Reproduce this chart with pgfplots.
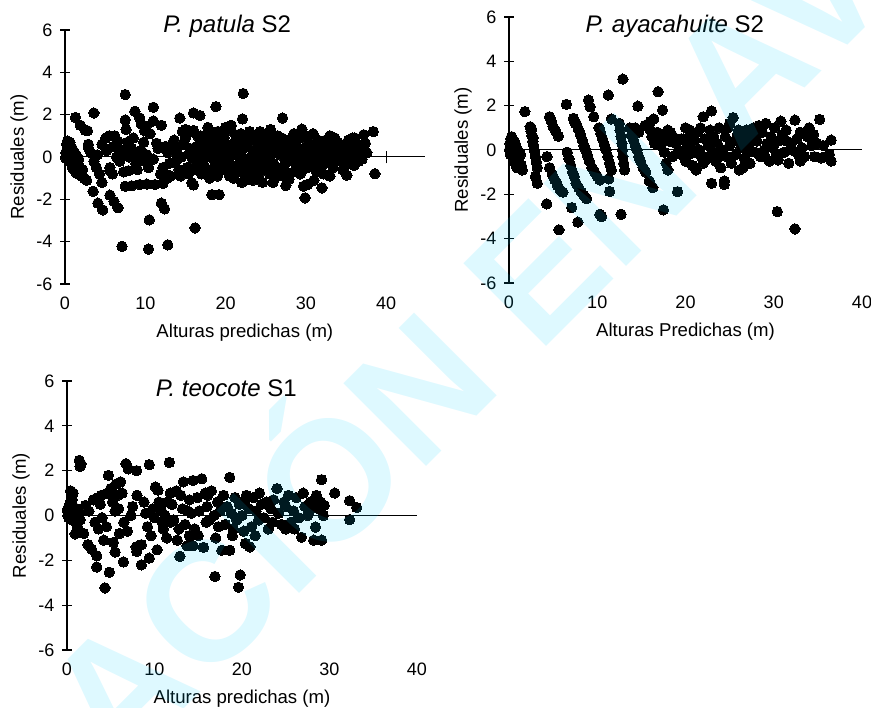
\documentclass[border=0pt]{standalone}
\usepackage{fontspec}
\setmainfont{Liberation Sans}
\usepackage{pgfplots}
\pgfplotsset{compat=1.18}
\definecolor{wmark}{RGB}{0,205,255}
\pgfplotsset{
 resid/.style={
  scale only axis, clip=false,
  ymin=-6, ymax=6, xmin=0,
  axis x line=bottom, axis y line=left,
  x axis line style={draw=none},
  y axis line style={-, line width=1.3pt},
  ytick={-6,-4,...,6}, xtick={0,10,20,30,40},
  xtick style={draw=none},
  ytick style={line width=1.3pt, black},
  tick align=center, major tick length=10pt,
  tick label style={font=\fontsize{18}{18}\selectfont},
  /pgf/number format/assume math mode=true,
  xticklabel style={anchor=center, yshift=-14pt},
  yticklabel style={anchor=east, xshift=-4pt},
  label style={font=\fontsize{18.6}{18.6}\selectfont},
  ylabel={Residuales (m)},
  ylabel style={at={([xshift=-46pt]axis description cs:0,0.5)}, anchor=center},
  xlabel style={at={([yshift=-49pt]axis description cs:0.5,0)}, anchor=center},
 },
 pts/.style={only marks, mark=*, mark size=5.2pt, mark options={fill=black, draw=black, line width=0pt}},
 zero/.style={no marks, black, line width=1pt},
}
\tikzset{ttl/.style={anchor=base, font=\fontsize{24}{24}\selectfont}}
\begin{document}
\begin{tikzpicture}
\useasboundingbox (0,0) rectangle (871pt,-708pt);
% ---------- Panel 1 ----------
\begin{axis}[resid, at={(65pt,-284pt)}, anchor=south west, width=359.7pt, height=254pt, xmax=44.8,
  xlabel={Alturas predichas (m)}]
\addplot[zero] coordinates {(0,0) (44.8,0)};
\draw[line width=1pt] (axis cs:40,-0.3) -- (axis cs:40,0.3);
\addplot[pts] coordinates {
(7.5,2.95) (22.2,3.0) (3.6,2.08) (1.3,1.87) (1.9,1.5) (2.5,1.27) (2.8,1.24) (7.5,1.75) (7.6,1.3) (8.7,2.16)
(9.5,1.56) (9.9,1.24) (11.0,2.35) (11.0,1.7) (12.0,1.5) (14.3,1.84) (16.0,2.08) (16.8,1.96) (18.8,2.38) (20.7,1.5)
(20.7,1.26) (22.1,1.8) (27.1,1.84) (29.5,1.32) (38.4,1.2) (37.2,1.05) (37.4,0.65) (37.6,0.2) (38.6,-0.79) (35.1,-0.86)
(32.0,-1.46) (29.7,-1.38) (29.9,-1.93) (30.2,-1.3)
(3.5,-1.62) (4.1,-2.18) (4.7,-2.5) (5.6,-1.8) (6.1,-2.1) (6.6,-2.4) (12.0,-2.18) (12.4,-2.45) (10.5,-2.97) (16.2,-3.35)
(7.1,-4.22) (10.4,-4.35) (12.8,-4.15)
(7.5,-1.38) (8.3,-1.36) (9.3,-1.3) (10.2,-1.28) (11.2,-1.3) (12.2,-1.25)
(15.8,-1.22) (16.0,-1.32) (18.3,-1.78) (19.2,-1.78) (22.0,-1.2) (23.4,-1.1) (24.6,-1.2) (25.9,-1.2) (27.5,-1.35) (27.9,-1.05)
(0.1,0.2) (0.2,0.6) (0.3,0.75) (0.3,0.1) (0.4,-0.1) (0.5,0.5) (0.6,0.3) (0.7,0.0) (0.8,-0.3) (0.9,-0.5)
(1.0,0.1) (1.1,-0.6) (1.2,-0.2) (1.3,-0.7) (1.5,-0.4) (1.6,-0.8) (1.8,-0.5) (2.0,-0.9) (2.2,-0.6) (2.4,-1.0)
(2.7,-1.1) (0.2,0.0) (0.5,-0.2) (0.6,0.7) (0.9,0.4) (1.2,0.2) (0.1,-0.05) (0.4,0.35) (1.4,0.1) (1.7,-0.1)
(2.9,0.6) (2.9,0.45) (3.2,0.2) (3.6,-0.2) (3.9,-0.5) (4.3,-0.8) (4.6,-1.2) (4.6,0.6) (5.1,0.9) (5.5,1.0)
(6.2,1.0) (6.6,0.75) (6.4,0.0) (6.9,0.2) (5.6,-0.5) (5.6,-0.65) (5.9,-0.8) (7.3,0.35) (7.3,0.1) (7.3,-0.7)
(7.9,-0.65) (8.5,0.9) (8.3,0.4) (8.9,0.05) (9.3,1.85) (10.1,1.45) (9.8,0.7) (10.2,0.1) (10.0,-0.2) (10.4,-0.5)
(10.6,1.1) (11.4,0.65) (11.6,0.4) (11.9,0.45) (12.2,-0.5) (12.5,-0.8) (12.7,-1.0) (11.9,-0.8) (8.0,0.0) (8.8,-0.3)
(9.0,-0.6) (6.0,0.5) (5.2,0.3) (4.0,0.1) (6.8,-0.2) (7.8,0.7) (9.5,0.3) (11.0,-0.1) (12.8,0.2) (13.0,0.5)
(13.5,0.4) (13.9,0.3) (14.5,0.0) (14.8,0.6) (15.0,0.9) (15.2,1.1) (15.0,1.3) (15.2,-0.5) (15.4,-0.8) (13.8,-0.2)
(14.2,-0.6) (14.0,0.1) (16.0,1.25) (16.5,1.0) (16.7,0.6) (17.1,0.2) (16.9,-0.2) (17.3,-0.4) (17.6,0.8) (17.9,0.5)
(18.1,1.1) (18.3,0.3) (18.5,-0.1) (18.8,-0.4) (19.0,1.2) (19.3,0.7) (19.5,0.2) (19.6,-0.6) (19.8,0.9) (20.1,0.4)
(20.3,-0.2) (20.5,-0.9) (20.8,0.6) (21.0,0.1) (21.3,1.0) (21.5,-0.4) (21.7,0.7) (22.0,0.3) (22.2,-0.7) (22.4,1.0)
(22.7,0.5) (22.9,-0.1) (23.2,0.8) (23.4,-0.4) (23.7,0.2) (24.0,0.9) (24.2,-0.8) (24.5,0.5) (24.8,0.0) (25.0,-0.5)
(25.3,0.7) (25.6,1.3) (25.8,0.3) (26.0,-0.3) (26.3,0.6) (26.5,-0.9) (26.8,0.1) (27.0,0.9) (27.3,-0.4) (27.6,0.4)
(28.1,0.0) (28.4,0.5) (28.7,-0.6) (29.0,0.3) (29.3,-0.2) (29.6,0.9) (29.9,0.0) (30.2,-0.5) (30.4,0.6) (30.7,-0.1)
(31.0,0.3) (31.3,-0.7) (31.5,0.8) (31.8,0.0) (32.0,-0.4) (32.3,0.4) (32.6,-0.2) (32.9,0.1) (33.1,0.7) (33.4,-0.5)
(33.7,0.2) (34.0,-0.1) (34.2,0.6) (34.5,0.0) (34.8,-0.4) (35.0,0.3) (35.3,0.8) (35.6,-0.2) (35.9,0.4) (36.2,0.0)
(36.5,0.6) (36.8,0.2) (37.0,-0.1)
(16.2,-0.6) (17.5,-0.8) (18.0,-1.0) (19.2,-0.3) (20.0,1.4) (21.0,-1.0) (22.5,-1.1) (23.8,-0.6) (24.3,1.2) (25.5,-0.8)
(26.5,1.0) (27.5,0.6) (28.0,-0.8) (29.0,1.0) (30.0,1.0) (31.0,-1.1) (32.5,0.8) (33.0,-0.9) (34.0,0.7) (35.5,0.7)
(36.0,-0.4) (23.0,1.2) (18.5,0.8) (19.0,-0.9) (16.5,0.1) (17.8,1.4) (20.5,0.0) (24.0,0.3) (26.0,0.3) (28.5,1.1)
(30.5,0.2) (33.5,0.4)
(13.2,-0.9) (13.6,0.8) (14.6,1.2) (15.6,0.4) (15.9,-0.1) (16.4,0.5) (16.9,1.0) (17.3,0.9) (17.7,0.0) (18.1,-0.6)
(18.7,0.0) (19.1,0.5) (19.7,1.0) (20.2,-0.5) (20.6,0.3) (21.2,0.6) (21.8,-0.2) (22.3,0.7) (22.8,-0.4) (23.3,0.1)
(23.9,0.6) (24.4,-0.3) (24.9,0.8) (25.4,-0.1) (25.9,0.9) (26.4,-0.5) (26.9,0.5) (27.4,0.0) (27.8,0.8) (28.3,-0.2)
(28.8,0.6) (29.3,-0.8) (29.8,0.4) (30.3,0.9) (30.8,-0.3) (31.3,0.5) (31.7,0.1) (32.2,-0.8) (32.7,0.7) (33.2,-0.1)
(33.6,0.9) (34.1,0.3) (34.6,-0.6) (35.1,0.6) (35.6,0.1) (36.1,0.9) (36.6,-0.2) (37.1,0.5) (13.0,-0.3) (14.4,-0.9)
(17.0,-0.8) (21.4,-0.7) (23.0,-0.8) (25.2,0.4) (27.2,-0.9) (29.6,-0.6) (31.9,-0.3) (34.3,-0.2) (36.0,0.3) (12.5,0.5)
(15.5,0.2) (18.0,0.2) (20.0,0.0) (22.0,-0.1) (24.0,-0.1) (26.2,0.2) (28.0,0.3) (30.0,-0.1) (32.0,0.5) (34.0,0.4)
(19.4,1.2) (24.7,1.1) (21.9,1.1) (30.9,1.1) (33.0,1.0) (35.8,0.9)
};
\node[ttl] at (axis cs:20.2,5.9) {\textit{P. patula} S2};
\end{axis}
% ---------- Panel 2 ----------
\begin{axis}[resid, at={(509pt,-283pt)}, anchor=south west, width=353pt, height=266pt, xmax=40,
  xlabel={Alturas Predichas (m)}]
\addplot[zero] coordinates {(0,0) (40,0)};
\addplot[pts] coordinates {
(0.05,0.0) (0.1,0.3) (0.15,-0.2) (0.2,0.5) (0.3,0.6) (0.3,0.1) (0.4,-0.3) (0.45,0.35) (0.5,0.0) (0.55,-0.5)
(0.6,0.4) (0.65,0.2) (0.7,-0.2) (0.8,-0.6) (0.85,0.1) (0.9,-0.8) (1.0,-0.3) (1.1,-0.5) (1.2,-0.8) (1.3,-0.2)
(1.4,-0.7) (1.5,-0.9) (0.25,-0.05) (0.75,0.25) (1.0,0.0)
(1.8,1.73)
(2.4,1.05) (2.5,0.85) (2.6,0.65) (2.7,0.4) (2.8,0.2) (2.9,-0.05) (3.0,-0.3) (3.1,-0.55) (3.2,-0.8) (3.0,-1.2)
(3.2,-1.5) (2.55,0.95) (2.75,0.55)
(4.6,1.5) (4.8,1.3) (5.0,1.05) (5.3,0.85) (5.6,0.62) (4.3,-0.3) (4.6,-0.8) (4.9,-1.1) (5.2,-1.35) (5.5,-1.6)
(5.8,-1.8) (6.1,-1.9) (4.27,-2.43) (5.66,-3.6)
(6.5,2.06) (7.3,1.43) (7.5,1.2) (6.6,-0.1) (6.8,-0.4) (7.0,-0.7) (7.2,-1.0) (7.4,-1.2) (7.6,-1.5) (7.9,-1.7)
(8.2,-1.9) (8.5,-2.05) (8.8,-2.2) (7.1,-2.6) (7.8,-3.25)
(7.6,1.2) (7.85,0.95) (8.1,0.7) (8.3,0.45) (8.5,0.2) (8.7,0.0) (8.9,-0.25) (9.1,-0.5) (9.4,-0.8) (9.7,-1.0)
(10.0,-1.2) (10.3,-1.35)
(9.0,2.25) (9.2,1.95) (9.6,1.5) (10.2,1.0) (10.4,0.75) (10.6,0.5) (10.8,0.25) (11.0,0.0) (11.2,-0.3) (11.4,-0.6)
(11.6,-0.9) (11.3,-1.3) (10.3,-2.9) (10.5,-3.0) (11.25,2.48) (11.6,1.4) (12.9,3.2)
(12.5,1.2) (12.6,0.9) (12.7,0.6) (12.8,0.3) (12.85,0.0) (12.9,-0.3) (13.0,-0.6) (13.1,-0.9) (12.7,-2.9) (11.4,-1.87)
(13.7,1.0) (13.9,0.7) (14.1,0.45) (14.3,0.2) (14.5,0.0) (14.7,-0.3) (14.9,-0.5) (15.2,-0.8) (15.5,-1.0) (14.3,1.0)
(14.7,0.8) (15.9,-1.4) (16.3,-1.7)
(14.6,1.98) (15.4,1.1) (16.0,1.28) (16.4,1.4) (16.9,2.63) (17.4,1.8) (17.5,-2.7) (16.0,0.9) (16.2,0.6) (16.5,0.3)
(16.8,0.8) (17.0,0.5) (17.2,0.2) (17.5,0.7) (17.8,0.6) (18.0,0.9) (18.2,0.4) (17.6,-0.1) (17.8,-0.6) (18.0,-0.9)
(18.3,0.8) (18.6,0.6) (18.9,0.3) (19.2,0.0) (19.5,-0.2) (19.1,-1.88) (18.5,-0.3)
(19.8,0.5) (20.0,1.0) (20.2,0.2) (20.4,-0.2) (20.6,0.7) (20.8,-0.7) (21.0,0.4) (21.2,-0.9) (21.0,-0.1) (21.4,0.8)
(21.6,0.0) (21.8,-0.3) (22.0,1.5) (22.2,0.5) (22.4,-0.4) (22.6,0.2) (22.95,1.76) (22.8,0.9) (23.0,-0.1) (23.2,0.6)
(23.4,-0.5) (22.95,-1.5) (23.6,0.3) (23.8,1.0) (24.0,-0.8) (24.2,0.0) (24.4,-1.4) (24.4,-1.55) (24.5,0.6) (24.7,-0.3)
(25.0,1.2) (25.0,0.2) (25.2,-0.6) (25.4,1.46) (25.5,0.4) (25.7,-0.2) (25.9,0.7) (26.1,-0.9) (26.3,0.1) (26.5,0.5)
(26.7,-0.4) (26.9,0.9) (27.1,0.2) (27.3,-0.6) (27.5,0.6) (27.7,1.0) (27.9,-0.1) (28.1,0.4) (28.3,1.1) (28.5,-0.3)
(28.7,0.8) (28.9,0.0) (29.1,1.2) (29.3,0.3) (29.5,-0.5) (29.7,0.6) (29.9,0.1) (30.1,1.0) (30.3,-0.2) (30.5,0.4)
(30.5,-0.45) (30.8,1.3) (30.4,-2.78) (31.0,0.7) (31.2,-0.1) (31.4,0.9) (31.7,-0.6) (31.9,0.3) (32.1,0.0) (32.4,1.35)
(32.4,-3.56) (32.6,0.5) (32.8,-0.2) (33.0,0.8) (33.2,0.1) (33.5,-0.3) (33.8,0.6) (34.0,1.0) (34.3,0.2) (34.6,-0.3)
(34.9,0.3) (35.2,1.38) (35.4,-0.36) (35.6,0.2) (35.9,-0.3) (36.5,0.45) (36.5,-0.5) (36.3,-0.2) (20.5,0.9) (21.7,1.0)
(23.9,-0.3) (26.0,0.9) (27.0,-0.1) (28.0,0.8) (29.0,-0.3) (31.5,0.4) (33.0,-0.5) (34.5,0.7) (19.5,0.5) (24.8,1.0)
(26.5,-0.8) (22.0,-0.6) (20.0,-0.5)
};
\node[ttl] at (axis cs:18.8,5.32) {\textit{P. ayacahuite} S2};
\end{axis}
% ---------- Panel 3 ----------
\begin{axis}[resid, at={(67pt,-650pt)}, anchor=south west, width=350pt, height=269pt, xmax=40,
  xlabel={Alturas predichas (m)}]
\addplot[zero] coordinates {(0,0) (40,0)};
\addplot[pts] coordinates {
(0.05,0.2) (0.1,0.0) (0.15,0.35) (0.2,0.1) (0.2,-0.1) (0.3,0.5) (0.3,0.2) (0.4,1.1) (0.5,0.9) (0.5,0.0)
(0.6,0.7) (0.6,-0.2) (0.7,0.4) (0.8,0.2) (0.9,0.0) (0.93,-0.82) (1.0,-0.3) (1.1,0.3) (1.2,-0.5) (1.3,0.1)
(0.1,0.3) (0.25,-0.05) (1.4,2.46) (1.5,2.19) (1.6,2.3)
(1.9,-0.8) (2.1,0.45) (2.4,-1.3) (2.8,-1.5) (3.0,0.7) (3.2,-0.3) (3.4,-1.8) (3.4,-2.3) (3.6,0.8) (3.8,0.5)
(3.6,-0.6) (4.0,-0.1) (4.34,-3.23) (4.2,-1.1) (4.5,-0.5) (4.73,1.79) (4.84,-2.53) (4.6,1.0) (5.0,1.2) (5.2,0.6)
(5.3,-1.2) (5.5,-1.63) (5.6,1.4) (5.8,0.9) (5.9,0.3) (6.13,1.5) (6.3,1.0) (6.44,-2.07) (6.5,-0.3) (6.74,2.31)
(7.0,2.08) (6.9,-0.7) (7.3,0.0) (7.96,2.0) (7.9,-1.4) (7.96,-1.6) (8.5,-2.2) (8.5,-1.3) (8.8,0.6) (9.0,0.1)
(9.2,-0.5) (9.4,2.27) (9.4,-1.9) (9.6,-0.9) (10.1,1.27) (10.4,1.13) (10.3,-1.53) (10.5,0.6) (10.8,0.2) (11.0,-0.6)
(11.2,0.0) (11.4,-1.0) (11.7,2.37) (11.8,1.0) (12.0,0.5) (12.2,-0.2) (12.5,1.1) (12.6,-1.1) (12.9,-1.82) (13.0,0.9)
(13.3,1.5) (13.2,0.3) (13.5,-0.4) (13.7,-1.35) (14.0,0.7) (14.2,0.1) (14.4,1.56) (14.4,-1.35) (14.6,-0.6) (14.9,0.8)
(15.1,0.2) (15.4,1.64) (15.6,-1.42) (15.8,1.0) (16.0,0.4) (16.3,-0.2) (16.5,1.1) (16.9,-2.72) (16.8,0.0) (17.0,-1.0)
(17.2,0.6) (17.5,0.2) (17.7,-1.55) (17.9,0.9) (18.1,-0.4) (18.3,0.4) (18.6,1.7) (18.6,-1.55) (18.8,0.1) (19.0,-0.6)
(19.2,0.8) (19.4,-0.2) (19.6,-3.2) (19.8,-2.65) (19.7,0.5) (20.0,0.0) (20.2,-0.7) (20.4,-1.25) (20.5,0.9) (20.9,-1.4)
(20.8,0.3) (21.1,-0.5) (21.3,0.8) (21.6,0.2) (21.9,-0.2) (22.2,0.5) (22.5,-0.1) (22.8,0.6) (23.0,-0.6) (23.3,0.3)
(23.6,0.7) (24.0,1.2) (24.2,0.1) (24.5,-0.4) (24.8,0.6) (25.0,-0.6) (25.3,0.9) (25.6,-0.3) (25.9,0.2) (26.2,0.8)
(26.5,-0.1) (26.8,-0.97) (27.0,1.0) (27.2,0.4) (27.5,0.0) (27.8,0.6) (28.2,-1.1) (28.4,-0.52) (28.5,0.9) (28.8,0.3)
(29.1,-1.1) (29.1,1.6) (29.3,0.0) (29.4,0.45) (29.0,0.6) (30.6,1.0) (32.3,0.66) (32.3,-0.18) (33.1,0.36)
(0.7,1.0) (1.5,-0.2) (2.5,0.2) (3.9,0.9) (5.5,0.2) (6.0,-0.8) (7.5,0.4) (8.0,0.9) (9.8,0.3) (10.9,-0.3)
(11.5,0.6) (12.8,-0.6) (13.8,0.2) (15.0,-0.9) (16.1,0.9) (17.3,-0.5) (18.9,-0.9) (20.3,0.6) (21.5,-0.9) (22.0,1.0)
(23.5,-0.3) (25.0,0.4) (26.0,-0.6) (27.7,0.2) (28.6,0.5) (15.9,-0.3) (14.0,-0.9) (11.8,-0.3) (10.0,-0.1)
};
\node[ttl] at (axis cs:18.2,5.29) {\textit{P. teocote} S1};
\end{axis}
% ---------- watermark ----------
\node[overlay, rotate=45, anchor=base west, inner sep=0pt, text=wmark, text opacity=0.13,
  font=\fontsize{170}{170}\selectfont\bfseries] at (-330pt,-1223pt) {PUBLICACIÓN EN AVANCE};
\end{tikzpicture}
\end{document}
